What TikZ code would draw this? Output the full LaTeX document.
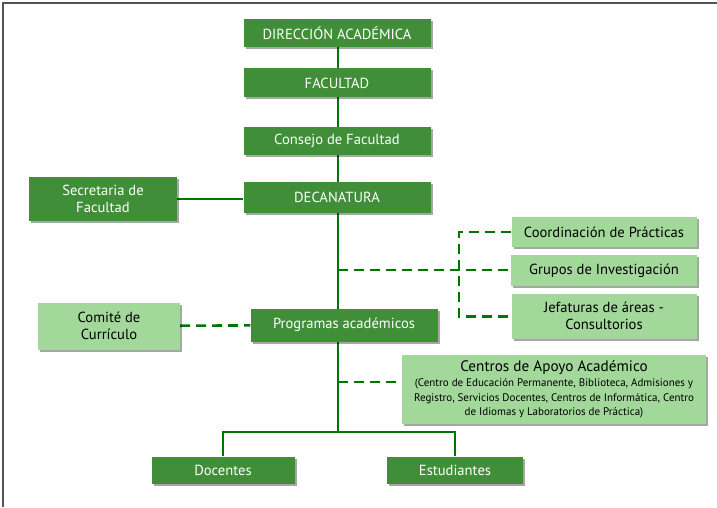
\documentclass[tikz,border=0pt]{standalone}
\usepackage{fontspec}
\setmainfont{PT Sans}
\usetikzlibrary{positioning,shadows,backgrounds}

\definecolor{boxdark}{RGB}{64,143,56}
\definecolor{boxlight}{RGB}{162,216,154}
\definecolor{linegreen}{RGB}{0,118,0}
\definecolor{framegray}{RGB}{85,85,85}

\begin{document}
\begin{tikzpicture}[x=1pt,y=-1pt,
	unit/.style={rectangle,inner sep=0pt,font=\fontsize{14.6}{17}\selectfont,align=center,
		drop shadow={shadow xshift=2pt,shadow yshift=-2pt,opacity=0.35,fill=black}},
	dark/.style={unit,fill=boxdark,text=white},
	light/.style={unit,fill=boxlight,text=black},
	link/.style={draw=linegreen,line width=2.2pt},
	dashlink/.style={draw=linegreen,line width=2.6pt,dash pattern=on 10pt off 6pt}
	]
\useasboundingbox (0,0) rectangle (717,507);
\draw[framegray,line width=2.5pt] (3,507) -- (3,3) -- (717,3);

% main column
\node[dark,minimum width=187pt,minimum height=28pt](dir) at (337,33) {DIRECCIÓN ACADÉMICA};
\node[dark,minimum width=187pt,minimum height=29pt](fac) [below = 21pt of dir] {FACULTAD};
\node[dark,minimum width=187pt,minimum height=28pt](cons) [below = 29pt of fac] {Consejo de Facultad};
\node[dark,minimum width=187pt,minimum height=31pt](dec) [below = 27pt of cons] {DECANATURA};
\node[dark,minimum width=148pt,minimum height=44pt](sec) at (103,199) {Secretaria de\\Facultad};

% right side units
\node[light,minimum width=185pt,minimum height=30pt](coo) at (604,232) {Coordinación de Prácticas};
\node[light,minimum width=186pt,minimum height=31pt](grp) [below = 8pt of coo] {Grupos de Investigación};
\node[light,minimum width=185pt,minimum height=45pt](jef) [below = 7pt of grp] {Jefaturas de áreas -\\Consultorios};

\node[dark,minimum width=187pt,minimum height=33pt](prog) at (344,325) {Programas académicos};
\node[light,minimum width=142pt,minimum height=47pt](com) at (109,326) {Comité de\\Currículo};

\node[light,minimum width=304pt,minimum height=69pt](cen) at (554,389.5)
	{{\fontsize{15.2}{17}\selectfont Centros de Apoyo Académico}\\[-2pt]
	{\fontsize{11}{13.5}\selectfont (Centro de Educación Permanente, Biblioteca, Admisiones y}\\[-2.5pt]
	{\fontsize{11}{13.5}\selectfont Registro, Servicios Docentes, Centros de Informática, Centro}\\[-2.5pt]
	{\fontsize{11}{13.5}\selectfont de Idiomas y Laboratorios de Práctica)}};

\node[dark,minimum width=143pt,minimum height=27pt](doc) at (223,470) {Docentes};
\node[dark,minimum width=136pt,minimum height=27pt](est) at (455,470) {Estudiantes};

\coordinate (bus) at (338,432);
\coordinate (jx) at (459,270);
\coordinate (gj) at (338,270);
\coordinate (cj) at (338,382);

% connectors
\begin{scope}[on background layer]
\draw[link](dir.south -| bus) -- (bus);
\draw[link](sec.east) -- (sec.east -| dec.west);
\draw[link](doc.north) |- (bus) -| (est.north);

\draw[dashlink](gj) -- (gj -| grp.west);
\draw[dashlink](coo.west) -| (jx) |- (jef.west);
\draw[dashlink](com) -- (prog);
\draw[dashlink](cj) -- (cj -| cen.west);
\end{scope}
\end{tikzpicture}
\end{document}
